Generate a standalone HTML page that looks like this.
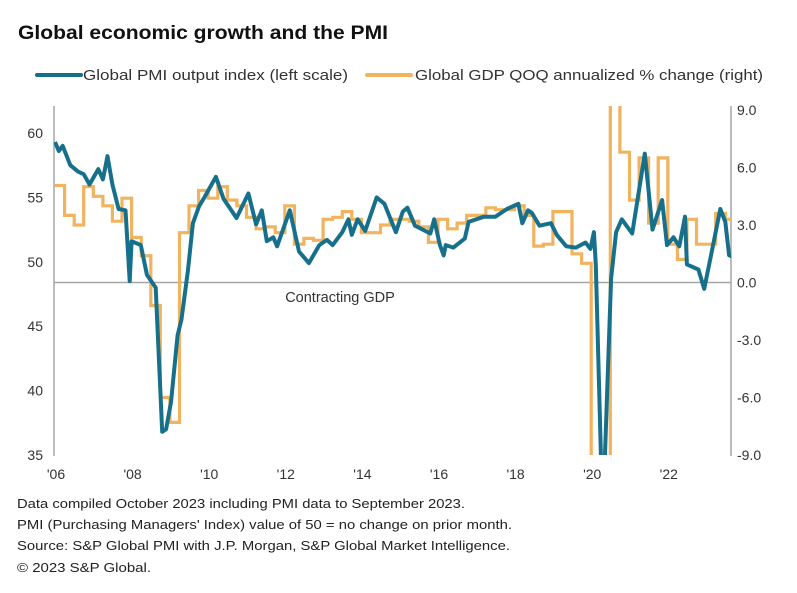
<!DOCTYPE html>
<html><head><meta charset="utf-8">
<style>
html,body{margin:0;padding:0;background:#fff;width:797px;height:593px;overflow:hidden;}
svg{display:block;font-family:"Liberation Sans",Arial,sans-serif;}
</style></head>
<body>
<svg id="chart" width="797" height="593" viewBox="0 0 797 593" xmlns="http://www.w3.org/2000/svg">
  <text x="18" y="39" font-size="19" font-weight="bold" fill="#111" textLength="370" lengthAdjust="spacingAndGlyphs">Global economic growth and the PMI</text>
  <g>
    <line x1="37" y1="75" x2="81" y2="75" stroke="#17708b" stroke-width="4" stroke-linecap="round"/>
    <text x="83" y="80" font-size="15" fill="#333" textLength="265" lengthAdjust="spacingAndGlyphs">Global PMI output index (left scale)</text>
    <line x1="367" y1="75" x2="411" y2="75" stroke="#f2b35e" stroke-width="4" stroke-linecap="round"/>
    <text x="415" y="80" font-size="15" fill="#333" textLength="348" lengthAdjust="spacingAndGlyphs">Global GDP QOQ annualized % change (right)</text>
  </g>
  <defs><clipPath id="plotclip"><rect x="54" y="106" width="677" height="349"/></clipPath></defs>
  <g id="axes"></g>
  <g id="series" clip-path="url(#plotclip)"></g>
  <text x="340" y="302" font-size="14.5" fill="#333" text-anchor="middle">Contracting GDP</text>
  <g font-size="13" fill="#222">
    <text x="17" y="508" textLength="448" lengthAdjust="spacingAndGlyphs">Data compiled October 2023 including PMI data to September 2023.</text>
    <text x="17" y="529" textLength="495" lengthAdjust="spacingAndGlyphs">PMI (Purchasing Managers' Index) value of 50 = no change on prior month.</text>
    <text x="17" y="550" textLength="493" lengthAdjust="spacingAndGlyphs">Source: S&amp;P Global PMI with J.P. Morgan, S&amp;P Global Market Intelligence.</text>
    <text x="17" y="572" textLength="134" lengthAdjust="spacingAndGlyphs">© 2023 S&amp;P Global.</text>
  </g>
</svg>
<script>
const pmiDates = [2006.0,2006.1,2006.2,2006.4,2006.6,2006.75,2006.9,2007.13,2007.25,2007.37,2007.5,2007.66,2007.84,2007.95,2008.0,2008.24,2008.4,2008.63,2008.8,2008.9,2009.03,2009.2,2009.3,2009.47,2009.6,2009.76,2009.9,2010.2,2010.4,2010.74,2011.05,2011.25,2011.4,2011.53,2011.7,2011.8,2012.13,2012.37,2012.63,2012.9,2013.1,2013.25,2013.5,2013.66,2013.75,2013.9,2014.1,2014.4,2014.6,2014.9,2015.08,2015.2,2015.4,2015.8,2015.9,2016.05,2016.15,2016.2,2016.4,2016.7,2016.8,2017.2,2017.5,2017.8,2018.1,2018.2,2018.35,2018.45,2018.65,2018.95,2019.1,2019.35,2019.6,2019.85,2019.98,2020.07,2020.12,2020.26,2020.35,2020.52,2020.65,2020.8,2021.07,2021.4,2021.6,2021.85,2021.98,2022.15,2022.3,2022.45,2022.5,2022.8,2022.95,2023.15,2023.37,2023.5,2023.6,2023.7];
const pmiValues = [59.3,58.6,59.0,57.5,57.0,56.8,56.0,57.2,56.4,58.2,56.0,54.1,54.0,48.5,51.6,51.3,49.0,48.0,36.8,37.0,39.1,44.3,45.5,49.3,53.0,54.3,55.0,56.6,54.9,53.4,55.3,52.9,54.0,51.6,51.9,51.2,54.0,50.8,49.9,51.3,51.7,51.3,52.3,53.3,52.1,53.3,52.4,55.0,54.5,52.3,53.9,54.2,52.8,52.2,53.3,51.3,50.5,51.3,51.1,51.8,53.1,53.5,53.5,54.1,54.5,53.0,54.0,53.8,52.8,53.0,52.1,51.2,51.1,51.5,51.0,52.3,49.8,26.0,30.0,48.7,52.3,53.3,52.2,58.4,52.5,54.8,51.3,51.9,51.2,53.5,49.8,49.4,47.9,50.8,54.1,53.1,50.5,50.4];
const gdpStart = 2006.0;
const gdpValues = [5.06,3.5,3.0,5.0,4.5,4.0,3.2,4.4,2.35,1.4,-1.2,-6.0,-7.3,2.6,4.0,4.8,4.4,5.0,4.3,4.0,3.4,2.8,2.9,2.6,4.0,2.0,2.3,2.2,3.3,3.4,3.7,3.3,2.6,2.6,3.0,3.3,3.3,3.2,2.9,2.1,3.3,2.8,3.1,3.5,3.5,3.9,3.8,3.8,4.0,3.5,1.9,2.0,3.7,3.7,1.5,1.0,-12.0,-25.0,35.0,6.8,4.3,6.5,3.1,6.5,2.0,1.2,3.3,2.0,2.0,3.6,3.3];
const gdpEnd = 2023.75;
const leftTicks = [60,55,50,45,40,35];
const rightTicks = [9,6,3,0,-3,-6,-9];
const xTickYears = [2006,2008,2010,2012,2014,2016,2018,2020,2022];
const xTickLabels = ["'06","'08","'10","'12","'14","'16","'18","'20","'22"];

const NS = "http://www.w3.org/2000/svg";
const X0 = 55, PXY = 38.3, YTOP = 96, YBOT = 466;
function clampY(y){ return Math.max(YTOP, Math.min(YBOT, y)); }
function xs(d){ return X0 + (d - 2006) * PXY; }
function yL(v){ return clampY(133 + (60 - v) * (455 - 133) / 25); }
function yR(v){ return clampY(110 + (9 - v) * (455 - 110) / 18); }
function mk(tag, attrs, parent){
  const e = document.createElementNS(NS, tag);
  for (const k in attrs) e.setAttribute(k, attrs[k]);
  parent.appendChild(e); return e;
}
const axes = document.getElementById('axes');
const series = document.getElementById('series');

const la = mk('line', {x1:54,y1:106,x2:54,y2:456,stroke:'#a6a6a6','stroke-width':1.5}, axes);


const ra = mk('line', {x1:731,y1:106,x2:731,y2:456,stroke:'#a6a6a6','stroke-width':1.5}, axes);


const zl = mk('line', {x1:54,y1:yR(0),x2:731,y2:yR(0),stroke:'#a6a6a6','stroke-width':1.5}, axes);



leftTicks.forEach(v => {
  const t = mk('text', {x:43,y:yL(v)+5,'font-size':14,fill:'#333','text-anchor':'end'}, axes);
  t.textContent = v;
  
  
});
rightTicks.forEach(v => {
  const t = mk('text', {x:737,y:yR(v)+5,'font-size':14,fill:'#333'}, axes);
  t.textContent = v.toFixed(1);
  
  
});
xTickYears.forEach((yr, i) => {
  const t = mk('text', {x:xs(yr)+1,y:479,'font-size':14,fill:'#333','text-anchor':'middle'}, axes);
  t.textContent = xTickLabels[i];
  
  
});

let gd = '';
gdpValues.forEach((v, i) => {
  const xa = xs(gdpStart + i * 0.25);
  const xb = xs(Math.min(gdpStart + (i + 1) * 0.25, gdpEnd));
  const y = yR(v);
  gd += (i === 0 ? 'M' : 'L') + xa.toFixed(1) + ',' + y.toFixed(1) + 'L' + xb.toFixed(1) + ',' + y.toFixed(1);
});
const gp = mk('path', {d:gd,fill:'none',stroke:'#f2b35e','stroke-width':3.2,'stroke-linejoin':'miter'}, series);



let pd = '';
pmiDates.forEach((d, i) => {
  pd += (i === 0 ? 'M' : 'L') + xs(d).toFixed(1) + ',' + yL(pmiValues[i]).toFixed(1);
});
const pp = mk('path', {d:pd,fill:'none',stroke:'#17708b','stroke-width':4,'stroke-linejoin':'round'}, series);


</script>
</body></html>
